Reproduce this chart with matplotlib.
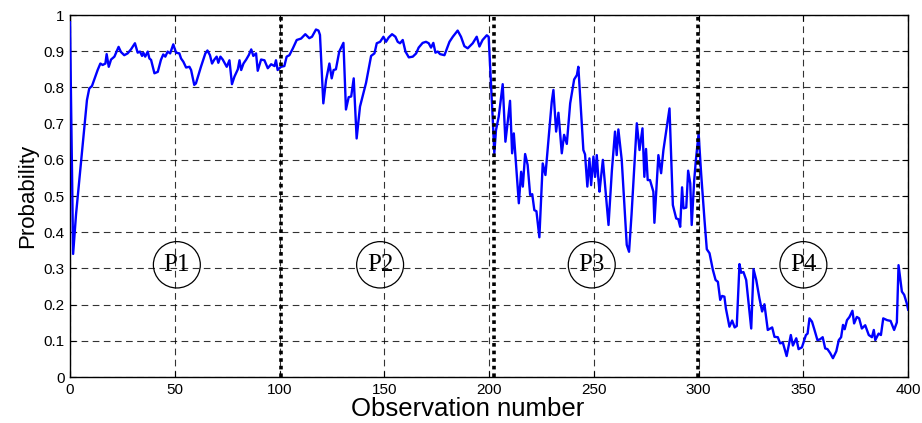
import matplotlib.pyplot as plt
from matplotlib.patches import Ellipse

# observation number / probability
obs = [0, 1.5, 2.9, 8.1, 9.2, 10.5, 12.1, 13.2, 14.5, 15.6, 16.9, 17.5, 18.5, 19.6, 21.2,
       23.2, 24.3, 25.9, 27.5, 29.1, 31.0, 32.3, 33.4, 34.4, 35.0, 35.9, 37.1, 37.9, 38.7,
       40.3, 41.9, 43.4, 44.5, 45.5, 46.6, 47.8, 49.3, 50.6, 52.2, 53.0, 54.1, 55.4, 57.0,
       57.8, 59.3, 60.1, 62.5, 64.6, 65.6, 66.8, 67.8, 68.9, 70.0, 70.8, 71.8, 72.9, 74.8,
       76.1, 77.3, 78.5, 80.1, 80.9, 81.7, 82.8, 84.1, 85.3, 86.5, 87.5, 88.8, 89.6, 91.2,
       92.8, 94.4, 96.0, 97.6, 98.3, 99.1, 100.7, 102.3, 103.4, 104.7, 106.3, 108.2, 110.3,
       112.3, 114.2, 115.5, 117.4, 118.6, 119.3, 120.9, 122.2, 123.8, 124.9, 125.8, 126.9,
       128.5, 130.5, 131.7, 133.0, 134.2, 135.4, 136.8, 138.4, 141.3, 143.7, 145.3, 146.4,
       148.0, 149.6, 150.8, 152.1, 153.7, 155.3, 156.4, 157.5, 158.8, 160.1, 161.7, 163.6,
       165.2, 166.4, 168.3, 169.9, 171.2, 172.3, 173.4, 174.4, 175.5, 176.6, 178.7, 181.1,
       182.7, 185.0, 186.6, 188.2, 189.8, 192.2, 194.1, 195.4, 196.9, 198.9, 199.8, 200.6,
       201.7, 202.5, 203.3, 204.6, 206.5, 207.8, 209.0, 210.0, 211.0, 211.8, 212.6, 214.2,
       215.3, 216.1, 217.2, 218.4, 219.6, 220.6, 221.6, 222.6, 224.0, 225.6, 226.9, 229.9,
       230.7, 232.0, 233.1, 234.7, 235.8, 237.1, 238.7, 240.6, 241.9, 242.6, 243.4, 245.0,
       245.8, 246.9, 247.9, 248.7, 249.8, 250.6, 251.4, 252.2, 252.7, 254.3, 257.0, 258.6,
       260.1, 260.9, 261.7, 263.3, 265.7, 266.8, 268.0, 270.5, 271.8, 273.2, 274.1, 274.9,
       275.7, 276.8, 278.4, 278.9, 280.8, 282.1, 283.2, 286.1, 287.7, 289.3, 290.3, 291.2,
       292.1, 292.8, 294.1, 295.0, 296.0, 296.7, 297.9, 298.7, 300.0, 301.2, 302.8, 303.9,
       305.2, 306.8, 308.1, 309.2, 310.3, 311.2, 312.3, 313.0, 314.7, 316.0, 317.2, 318.2,
       319.5, 320.3, 321.4, 322.7, 325.1, 326.2, 327.5, 329.0, 330.3, 331.4, 333.0, 335.1,
       336.2, 337.8, 338.9, 340.2, 342.0, 344.0, 345.0, 346.6, 347.7, 349.3, 351.2, 352.0,
       352.9, 354.1, 355.3, 356.7, 357.9, 359.2, 360.4, 361.5, 362.8, 364.1, 365.7, 366.9,
       368.0, 368.9, 369.7, 370.8, 372.0, 373.4, 374.2, 375.5, 376.6, 377.9, 379.5, 381.2,
       382.7, 383.6, 384.3, 385.9, 387.0, 388.1, 390.0, 391.6, 393.3, 394.6, 395.4, 397.0,
       398.1, 399.3, 400]
prob = [0.98, 0.34, 0.45, 0.765, 0.797, 0.804, 0.83, 0.848, 0.866, 0.862, 0.866, 0.892, 0.857,
        0.877, 0.885, 0.912, 0.898, 0.889, 0.894, 0.905, 0.922, 0.896, 0.899, 0.887, 0.896,
        0.885, 0.899, 0.880, 0.876, 0.839, 0.843, 0.876, 0.891, 0.885, 0.899, 0.894, 0.919,
        0.896, 0.894, 0.880, 0.871, 0.855, 0.857, 0.848, 0.807, 0.811, 0.857, 0.894, 0.902,
        0.889, 0.866, 0.877, 0.885, 0.868, 0.885, 0.877, 0.857, 0.875, 0.809, 0.830, 0.850,
        0.875, 0.848, 0.866, 0.877, 0.889, 0.905, 0.887, 0.894, 0.846, 0.877, 0.875, 0.853,
        0.864, 0.859, 0.875, 0.848, 0.857, 0.859, 0.885, 0.889, 0.907, 0.931, 0.935, 0.947,
        0.936, 0.94, 0.960, 0.957, 0.945, 0.756, 0.820, 0.866, 0.825, 0.848, 0.850, 0.899,
        0.923, 0.739, 0.773, 0.775, 0.825, 0.659, 0.747, 0.813, 0.887, 0.894, 0.922, 0.926,
        0.940, 0.926, 0.938, 0.947, 0.940, 0.926, 0.922, 0.931, 0.899, 0.883, 0.885, 0.894,
        0.910, 0.923, 0.926, 0.922, 0.910, 0.923, 0.896, 0.899, 0.892, 0.889, 0.926, 0.940,
        0.957, 0.940, 0.914, 0.908, 0.922, 0.940, 0.913, 0.931, 0.944, 0.940, 0.848, 0.719,
        0.618, 0.682, 0.719, 0.809, 0.650, 0.710, 0.763, 0.618, 0.673, 0.609, 0.480, 0.567,
        0.526, 0.616, 0.586, 0.503, 0.505, 0.461, 0.458, 0.386, 0.590, 0.558, 0.760, 0.793,
        0.678, 0.730, 0.618, 0.669, 0.644, 0.756, 0.822, 0.834, 0.857, 0.78, 0.627, 0.615,
        0.526, 0.604, 0.530, 0.609, 0.553, 0.613, 0.544, 0.512, 0.600, 0.420, 0.57, 0.678,
        0.613, 0.684, 0.60, 0.365, 0.346, 0.45, 0.701, 0.627, 0.687, 0.553, 0.630, 0.544,
        0.544, 0.512, 0.426, 0.613, 0.563, 0.627, 0.742, 0.475, 0.438, 0.436, 0.415, 0.524,
        0.466, 0.468, 0.570, 0.535, 0.420, 0.544, 0.600, 0.673, 0.562, 0.434, 0.353, 0.342,
        0.296, 0.268, 0.263, 0.213, 0.224, 0.222, 0.19, 0.139, 0.156, 0.137, 0.141, 0.312,
        0.288, 0.290, 0.268, 0.134, 0.298, 0.268, 0.218, 0.181, 0.201, 0.130, 0.137, 0.111,
        0.110, 0.093, 0.095, 0.058, 0.116, 0.087, 0.107, 0.077, 0.082, 0.116, 0.12, 0.162,
        0.153, 0.130, 0.102, 0.104, 0.110, 0.079, 0.077, 0.066, 0.052, 0.071, 0.102, 0.110,
        0.144, 0.132, 0.157, 0.166, 0.183, 0.148, 0.166, 0.162, 0.134, 0.143, 0.116, 0.110,
        0.130, 0.102, 0.120, 0.116, 0.162, 0.157, 0.155, 0.130, 0.151, 0.309, 0.236, 0.227,
        0.204, 0.186]

# phase boundaries and labels
bounds = [100.5, 202.2, 299.5]
phase_names = ["P1", "P2", "P3", "P4"]
phase_x = [51, 148, 249, 350]
phase_y = 0.31

plt.rcParams['font.family'] = ['Liberation Sans', 'DejaVu Sans']

fig = plt.figure(figsize=(9.22, 4.23), dpi=100)
ax = fig.add_axes([0.0759, 0.1087, 0.9091, 0.8558])

ax.plot(obs, prob, color="#0000ff", lw=1.7, zorder=3)

for b in bounds:
    ax.axvline(b, color="black", lw=2.6, linestyle=(0, (1, 1.1)), zorder=4)

for name, px in zip(phase_names, phase_x):
    ax.add_patch(Ellipse((px, phase_y), width=22.4, height=0.128, fill=False,
                         edgecolor="black", lw=0.9, zorder=5))
    ax.text(px, phase_y, name, ha="center", va="center", fontsize=18,
            family="Liberation Serif", zorder=6)

ax.set_xlim(0, 400)
ax.set_ylim(0, 1)
ax.set_xticks(range(0, 401, 50))
ax.set_yticks([i / 10 for i in range(11)])
ax.set_yticklabels(["0", "0.1", "0.2", "0.3", "0.4", "0.5", "0.6", "0.7", "0.8", "0.9", "1"])
ax.tick_params(direction="in", top=True, right=True, labelsize=11, length=4, pad=4)
ax.grid(True, color="black", linestyle=(0, (6, 4)), lw=0.8, alpha=0.8)
for s in ax.spines.values():
    s.set_linewidth(1.0)

ax.set_xlabel("Observation number", fontsize=18.5)
ax.xaxis.set_label_coords(0.474, -0.054, transform=ax.transAxes)
ax.xaxis.label.set_va("top")
ax.set_ylabel("Probability", fontsize=16, labelpad=4)

fig.savefig("out.png", dpi=100)
